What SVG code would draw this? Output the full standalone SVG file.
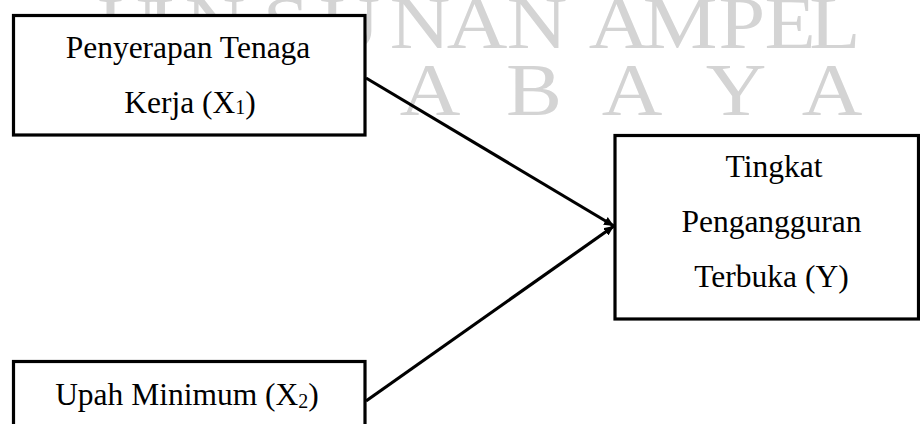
<svg xmlns="http://www.w3.org/2000/svg" width="920" height="424" viewBox="0 0 920 424">
<style>
.wm{font-family:"Liberation Serif",serif;font-size:73px;fill:#d4d4d4;text-anchor:middle}
.box{fill:#fff;stroke:#000;stroke-width:3.2}
.lbl{font-family:"Liberation Serif","Times New Roman",serif;font-size:31.5px;fill:#000;text-anchor:middle}
.sub{font-size:20px}
.conn{stroke:#000;stroke-width:3.2;fill:none}
</style>
<defs>
<marker id="ah" markerUnits="userSpaceOnUse" markerWidth="11" markerHeight="9" refX="10" refY="4.5" orient="auto">
<path d="M0,0 L10,4.5 L0,9 z" fill="#000"/>
</marker>
</defs>
<rect width="920" height="424" fill="#fff"/>
<g id="watermark" transform="scale(1.15 1)">
<text class="wm" y="48" x="111.3 140 187 248.7 304.3 365.2 414.8 467 538.3 591.3 645.2 687 726.1">UINSUNANAMPEL</text>
<text class="wm" y="115" x="113 200 287 373.9 464.3 549.6 640 723.5">SURABAYA</text>
</g>
<g id="connectors">
<line class="conn" x1="366" y1="78" x2="614" y2="226" marker-end="url(#ah)"/>
<line class="conn" x1="366" y1="401" x2="614" y2="226" marker-end="url(#ah)"/>
</g>
<g id="x1">
<rect class="box" x="13.5" y="15.5" width="351.5" height="119.5"/>
<text class="lbl" x="188" y="58">Penyerapan Tenaga</text>
<text class="lbl" x="190" y="113">Kerja (X<tspan class="sub" dy="1">1</tspan><tspan dy="-1">)</tspan></text>
</g>
<g id="y">
<rect class="box" x="615" y="135.5" width="303.5" height="183.5"/>
<text class="lbl" x="774" y="177">Tingkat</text>
<text class="lbl" x="771.5" y="232">Pengangguran</text>
<text class="lbl" x="771.5" y="287">Terbuka (Y)</text>
</g>
<g id="x2">
<rect class="box" x="13.5" y="361.5" width="351.5" height="80"/>
<text class="lbl" x="187" y="405">Upah Minimum (X<tspan class="sub" dy="3">2</tspan><tspan dy="-3">)</tspan></text>
</g>
</svg>
